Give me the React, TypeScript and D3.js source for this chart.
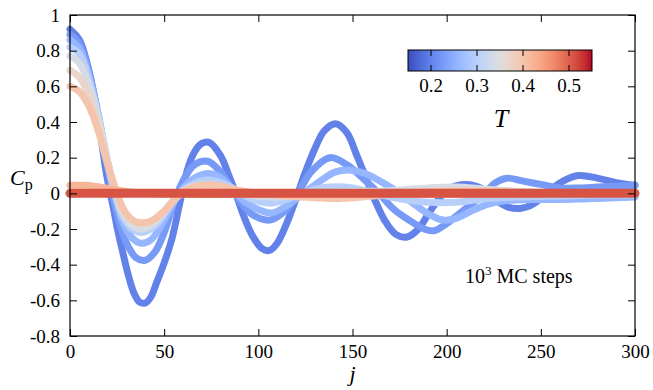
import React, { useEffect, useRef } from 'react';
import * as d3 from 'd3';

// temperature of each curve, in drawing order (cold first, hot on top)
const temps = [0.2, 0.225, 0.26, 0.3, 0.34, 0.37, 0.4, 0.42, 0.51];

// C_p(j), [j, value]
const cpT020: [number, number][] = [
  [0, 0.92], [5, 0.86], [10, 0.69], [15, 0.42], [19, 0.13], [21, 0.02], [23, -0.08], [25, -0.19],
  [28, -0.33], [31, -0.46], [34, -0.56], [37, -0.61], [40, -0.615], [43, -0.58], [46, -0.5],
  [50, -0.39], [54, -0.26], [58, -0.07], [62, 0.12], [66, 0.23], [70, 0.28], [74, 0.285],
  [80, 0.21], [84, 0.11], [88, 0.0], [92, -0.12], [97, -0.24], [102, -0.31], [106, -0.32],
  [110, -0.28], [115, -0.17], [120, -0.03], [125, 0.12], [130, 0.25], [135, 0.35], [141, 0.39],
  [147, 0.34], [152, 0.22], [157, 0.09], [162, -0.04], [167, -0.15], [173, -0.23], [179, -0.245],
  [185, -0.2], [190, -0.12], [196, -0.03], [202, 0.03], [210, 0.05], [218, 0.03], [225, -0.03],
  [232, -0.075], [239, -0.085], [246, -0.06], [254, 0.01], [262, 0.07], [270, 0.1], [280, 0.085],
  [290, 0.06], [300, 0.045],
];
const cpT0225: [number, number][] = [
  [0, 0.89], [5, 0.84], [10, 0.68], [15, 0.44], [20, 0.15], [23, -0.02], [27, -0.19], [31, -0.3],
  [35, -0.36], [40, -0.375], [45, -0.33], [50, -0.22], [55, -0.06], [60, 0.07], [66, 0.16],
  [73, 0.18], [80, 0.12], [85, 0.04], [90, -0.04], [97, -0.12], [106, -0.15], [114, -0.1],
  [121, 0.0], [128, 0.12], [138, 0.2], [147, 0.16], [155, 0.09], [164, 0.0], [172, -0.09],
  [180, -0.15], [188, -0.2], [193, -0.21], [200, -0.17], [206, -0.12], [212, -0.07], [220, 0.0],
  [226, 0.06], [232, 0.085], [240, 0.07], [250, 0.05], [260, 0.03], [270, 0.03], [280, 0.035],
  [290, 0.04], [300, 0.045],
];
const cpT026: [number, number][] = [
  [0, 0.86], [5, 0.81], [10, 0.66], [15, 0.44], [20, 0.17], [24, -0.02], [28, -0.16], [33, -0.25],
  [38, -0.28], [43, -0.26], [48, -0.19], [53, -0.09], [58, 0.0], [64, 0.07], [72, 0.11], [78, 0.1],
  [85, 0.04], [92, -0.04], [100, -0.09], [107, -0.11], [115, -0.07], [124, 0.0], [133, 0.07],
  [141, 0.12], [149, 0.13], [157, 0.11], [166, 0.06], [175, 0.0], [184, -0.07], [191, -0.12],
  [198, -0.15], [205, -0.14], [213, -0.1], [222, -0.06], [232, -0.04], [245, -0.035], [260, -0.035],
  [275, -0.03], [290, -0.025], [300, -0.02],
];
const cpT030: [number, number][] = [
  [0, 0.82], [5, 0.78], [10, 0.64], [15, 0.43], [20, 0.18], [24, 0.0], [28, -0.13], [33, -0.2],
  [38, -0.22], [43, -0.2], [48, -0.15], [53, -0.07], [58, 0.0], [65, 0.05], [73, 0.075], [80, 0.06],
  [88, 0.02], [96, -0.03], [106, -0.055], [116, -0.03], [126, 0.01], [138, 0.035], [150, 0.03],
  [162, 0.0], [175, -0.03], [190, -0.05], [205, -0.05], [220, -0.03], [240, -0.02], [260, -0.015],
  [280, -0.01], [300, -0.01],
];
const cpT034: [number, number][] = [
  [0, 0.77], [5, 0.73], [10, 0.61], [15, 0.42], [20, 0.18], [24, 0.01], [28, -0.11], [33, -0.18],
  [38, -0.2], [43, -0.18], [48, -0.13], [53, -0.06], [58, 0.0], [66, 0.04], [75, 0.05], [85, 0.02],
  [95, -0.01], [110, -0.02], [130, 0.0], [150, 0.01], [170, 0.015], [190, 0.03], [205, 0.035],
  [220, 0.025], [240, 0.01], [270, 0.0], [300, 0.0],
];
const cpT037: [number, number][] = [
  [0, 0.69], [5, 0.65], [10, 0.55], [15, 0.38], [20, 0.17], [25, -0.01], [29, -0.11], [34, -0.16],
  [39, -0.17], [44, -0.15], [50, -0.1], [56, -0.03], [62, 0.02], [72, 0.04], [85, 0.02], [100, 0.0],
  [130, -0.01], [170, 0.0], [300, 0.0],
];
const cpT040: [number, number][] = [
  [0, 0.6], [5, 0.57], [10, 0.49], [15, 0.35], [20, 0.16], [25, 0.0], [29, -0.1], [34, -0.155],
  [39, -0.165], [44, -0.15], [50, -0.1], [56, -0.03], [62, 0.02], [70, 0.045], [78, 0.045],
  [88, 0.02], [100, 0.0], [115, -0.015], [130, -0.025], [142, -0.03], [155, -0.02], [170, -0.005],
  [190, 0.01], [210, 0.015], [230, 0.01], [260, 0.0], [300, 0.0],
];
const cpT042: [number, number][] = [
  [0, 0.045], [8, 0.045], [16, 0.035], [24, 0.02], [32, 0.008], [40, 0.0], [300, 0.0],
];
const cpT051: [number, number][] = [[0, 0.0], [300, 0.0]];

const series = [cpT020, cpT0225, cpT026, cpT030, cpT034, cpT037, cpT040, cpT042, cpT051];

const xTicks = [0, 50, 100, 150, 200, 250, 300];
const yTicks = [-0.8, -0.6, -0.4, -0.2, 0, 0.2, 0.4, 0.6, 0.8, 1];
const cbTicks = [0.2, 0.3, 0.4, 0.5];
const tDomain: [number, number] = [0.15, 0.55];

// coolwarm colormap
const coolwarm = [
  '#3b4cc0', '#445acc', '#4d68d7', '#5775e1', '#6282ea', '#6c8ef1', '#779af7', '#82a5fb',
  '#8db0fe', '#98b9ff', '#a3c2ff', '#aec9fd', '#b8d0f9', '#c2d5f4', '#ccd9ee', '#d5dbe6',
  '#dddddd', '#e5d8d1', '#ecd3c5', '#f1ccb8', '#f5c4ac', '#f7bb9f', '#f7b193', '#f7a686',
  '#f49a7b', '#f18d6f', '#ec7f63', '#e57058', '#de604d', '#d55042', '#cb3e38', '#c0282f', '#b40426',
];

const App: React.FC = () => {
  const svgRef = useRef<SVGSVGElement>(null);

  useEffect(() => {
    if (!svgRef.current) return;
    const svg = d3.select(svgRef.current);
    svg.selectAll('*').remove();

    const font = '"Liberation Serif", "Times New Roman", serif';
    const left = 70, right = 635, top = 15, bottom = 336;

    const x = d3.scaleLinear().domain([0, 300]).range([left, right]);
    const y = d3.scaleLinear().domain([-0.8, 1]).range([bottom, top]);
    const cmap = d3.piecewise(d3.interpolateRgb, coolwarm);
    const tNorm = d3.scaleLinear().domain(tDomain).range([0, 1]);

    // curves
    const line = d3.line<[number, number]>()
      .x(d => x(d[0]))
      .y(d => y(d[1]))
      .curve(d3.curveCatmullRom.alpha(0.5));

    series.forEach((s, i) => {
      const last = i === series.length - 1;
      svg.append('path')
        .datum(s)
        .attr('fill', 'none')
        .attr('stroke', cmap(tNorm(temps[i])))
        .attr('stroke-width', last ? 9 : 7)
        .attr('stroke-linecap', 'round')
        .attr('stroke-linejoin', 'round')
        .attr('d', line);
    });

    // axes with inward ticks
    const fmt = (d: d3.NumberValue) => String(+(+d).toFixed(1));
    const gB = svg.append('g').attr('transform', `translate(0,${bottom})`)
      .call(d3.axisBottom(x).tickValues(xTicks).tickSizeInner(-7).tickSizeOuter(0).tickPadding(8.5).tickFormat(fmt));
    const gL = svg.append('g').attr('transform', `translate(${left},0)`)
      .call(d3.axisLeft(y).tickValues(yTicks).tickSizeInner(-7).tickSizeOuter(0).tickPadding(10).tickFormat(fmt));
    const gT = svg.append('g').attr('transform', `translate(0,${top})`)
      .call(d3.axisTop(x).tickValues(xTicks).tickSizeInner(-7).tickSizeOuter(0).tickFormat(() => ''));
    const gR = svg.append('g').attr('transform', `translate(${right},0)`)
      .call(d3.axisRight(y).tickValues(yTicks).tickSizeInner(-7).tickSizeOuter(0).tickFormat(() => ''));
    [gB, gL, gT, gR].forEach(g => {
      g.select('.domain').remove();
      g.attr('font-family', font);
      g.selectAll('line').attr('stroke', '#000').attr('stroke-width', 1);
      g.selectAll('text').attr('font-family', font).attr('font-size', 19).attr('fill', '#000');
    });

    svg.append('rect')
      .attr('x', left).attr('y', top)
      .attr('width', right - left).attr('height', bottom - top)
      .attr('fill', 'none').attr('stroke', '#000').attr('stroke-width', 1.2);

    // axis labels
    svg.append('text')
      .attr('x', (left + right) / 2).attr('y', 381)
      .attr('text-anchor', 'middle')
      .attr('font-family', font).attr('font-size', 22).attr('font-style', 'italic')
      .text('j');

    const cp = svg.append('text').attr('x', 10).attr('y', 185).attr('font-family', font);
    cp.append('tspan').attr('font-size', 22).attr('font-style', 'italic').text('C');
    cp.append('tspan').attr('font-size', 16).attr('dy', 5).text('p');

    // annotation
    const ann = svg.append('text').attr('x', 465).attr('y', 283).attr('font-family', font).attr('font-size', 20);
    ann.append('tspan').text('10');
    ann.append('tspan').attr('font-size', 13).attr('dy', -8).text('3');
    ann.append('tspan').attr('dy', 8).text(' MC steps');

    // colorbar
    const cbx = d3.scaleLinear().domain(tDomain).range([408, 592]);
    const cbTop = 50, cbBot = 71;
    const grad = svg.append('defs').append('linearGradient').attr('id', 'cw')
      .attr('x1', '0%').attr('x2', '100%').attr('y1', '0%').attr('y2', '0%');
    d3.range(0, 1.0001, 0.02).forEach(t => {
      grad.append('stop').attr('offset', `${t * 100}%`).attr('stop-color', cmap(t));
    });
    svg.append('rect')
      .attr('x', cbx(tDomain[0])).attr('y', cbTop)
      .attr('width', cbx(tDomain[1]) - cbx(tDomain[0])).attr('height', cbBot - cbTop)
      .attr('fill', 'url(#cw)').attr('stroke', '#000').attr('stroke-width', 1);
    cbTicks.forEach(t => {
      svg.append('line').attr('x1', cbx(t)).attr('x2', cbx(t)).attr('y1', cbTop).attr('y2', cbTop + 6)
        .attr('stroke', '#000').attr('stroke-width', 1);
      svg.append('line').attr('x1', cbx(t)).attr('x2', cbx(t)).attr('y1', cbBot).attr('y2', cbBot - 6)
        .attr('stroke', '#000').attr('stroke-width', 1);
      svg.append('text').attr('x', cbx(t)).attr('y', 92)
        .attr('text-anchor', 'middle').attr('font-family', font).attr('font-size', 19)
        .text(String(t));
    });
    svg.append('text')
      .attr('x', 501).attr('y', 127)
      .attr('text-anchor', 'middle')
      .attr('font-family', font).attr('font-size', 26).attr('font-style', 'italic')
      .text('T');
  }, []);

  return (
    <svg ref={svgRef} width={653} height={390}
      style={{ position: 'absolute', left: 0, top: 0, background: '#fff' }} />
  );
};

export default App;
